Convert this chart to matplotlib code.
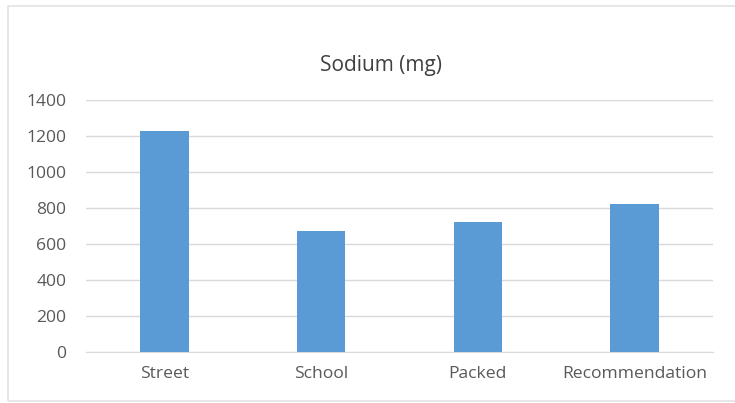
import numpy as np
import matplotlib.pyplot as plt
from matplotlib.patches import Rectangle

# Sodium content per lunch source
categories = ['Street', 'School', 'Packed', 'Recommendation']
sodium_mg = [1230, 675, 725, 820]
y_ticks = [0, 200, 400, 600, 800, 1000, 1200, 1400]

bar_color = '#5b9bd5'
grid_color = '#d9d9d9'
text_color = '#595959'

plt.rcParams['font.family'] = ['Open Sans', 'DejaVu Sans']

fig = plt.figure(figsize=(7.35, 4.03), dpi=100)
W, H = 735, 403

# Chart area outline
fig.patches.append(Rectangle((8 / W, 1 - 401 / H), 1.0, (401 - 6) / H,
                             transform=fig.transFigure, fill=False,
                             edgecolor='#e3e3e3', lw=1.2, zorder=0))

ax = fig.add_axes([86 / W, 1 - 352 / H, (713 - 86) / W, (352 - 100) / H])
x = np.arange(len(categories))
ax.bar(x, sodium_mg, width=0.31, color=bar_color, zorder=3)

ax.set_xlim(-0.5, len(categories) - 0.5)
ax.set_ylim(0, 1400)
ax.set_yticks(y_ticks)
ax.set_yticklabels([str(t) for t in y_ticks])
ax.set_xticks(x)
ax.set_xticklabels(categories)
ax.yaxis.grid(True, color=grid_color, lw=1, zorder=0)
ax.set_axisbelow(True)

for side in ['top', 'right', 'left']:
    ax.spines[side].set_visible(False)
ax.spines['bottom'].set_color(grid_color)
ax.tick_params(axis='both', length=0, labelsize=12.6, colors=text_color)
ax.tick_params(axis='y', pad=14)
ax.tick_params(axis='x', pad=10)

fig.text(381 / W, 1 - 66 / H, 'Sodium (mg)', ha='center', va='center',
         fontsize=15, color='#404040')

fig.savefig('out.png', dpi=100)
